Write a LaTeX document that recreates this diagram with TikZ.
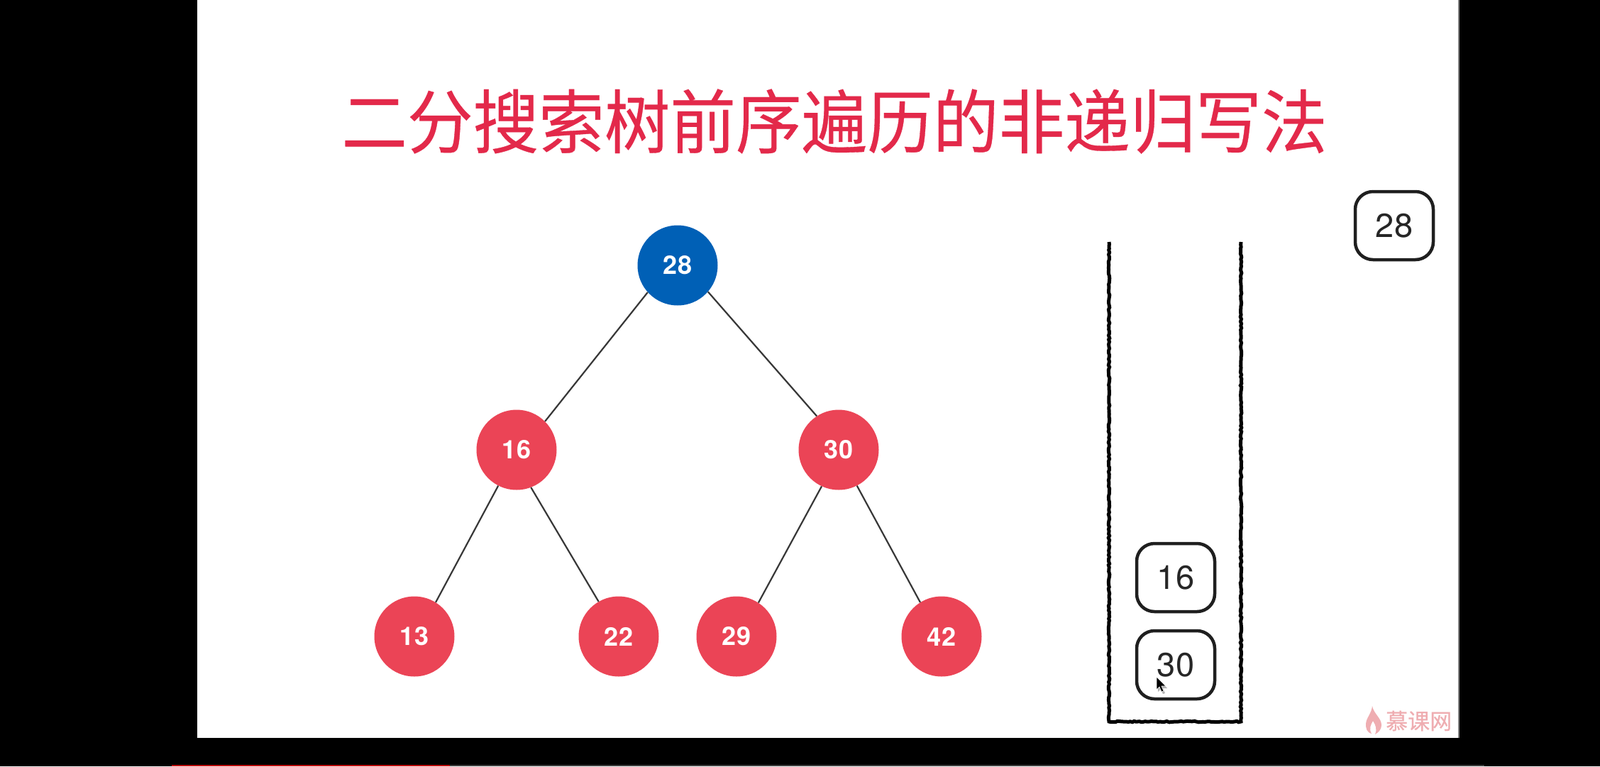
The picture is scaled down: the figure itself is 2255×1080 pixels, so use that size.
\documentclass[tikz,border=0pt]{standalone}
\usepackage{fontspec}
\setmainfont{TeX Gyre Heros}
\newfontfamily\cjk{Noto Sans CJK SC}
\newfontfamily\cjktitle[FakeStretch=0.945,FakeBold=0.35]{Noto Sans CJK SC}
\newfontfamily\cjkmark[FakeBold=0.4]{Noto Sans CJK SC}
\usetikzlibrary{decorations.pathmorphing}
\definecolor{treered}{HTML}{EB4456}
\definecolor{treeblue}{HTML}{0060B6}
\definecolor{titlered}{HTML}{E3294A}
\definecolor{markpink}{HTML}{EFADB1}
\tikzset{
  x=1pt,y=-1pt,
  treenode/.style={circle,minimum size=113pt,inner sep=0pt,text=white,font=\fontsize{36}{36}\selectfont\bfseries},
  rednode/.style={treenode,fill=treered},
  bluenode/.style={treenode,fill=treeblue},
  edge/.style={draw=black!78,line width=2.2pt},
  stackbox/.style={draw=black!88,line width=4.5pt,rounded corners=25pt,minimum width=110pt,minimum height=96pt,inner sep=0pt,font=\fontsize{47}{47}\selectfont,text=black!85},
  stackwall/.style={draw=black,line width=5pt,decorate,decoration={random steps,segment length=3pt,amplitude=.8pt}},
}
\begin{document}
\begin{tikzpicture}
\useasboundingbox (0,0) rectangle (2255,1080);
\fill[black] (0,0) rectangle (2255,1080);
\fill[white] (278,0) rectangle (2056,1040);
\draw[black!50,line width=1.5pt] (2056,0) -- (2056,1040);
\fill[black!75] (634,1078) rectangle (2092,1080);
\fill[red!75!black] (242,1078) rectangle (634,1080);

\node[anchor=center,text=titlered,font=\fontsize{98}{98}\cjktitle] (title) at (1176,171) {二分搜索树前序遍历的非递归写法};

\node[bluenode] (n28) at (955,374) {28};
\node[rednode] (n16) at (728,634) {16};
\node[rednode] (n30) at (1182,634) {30};
\node[rednode] (n13) at (584,897) {13};
\node[rednode] (n22) at (872,897) {22};
\node[rednode] (n29) at (1038,897) {29};
\node[rednode] (n42) at (1327,897) {42};
\draw[edge] (n28.222) -- (n16.45);
\draw[edge] (n28.-41) -- (n30.123);
\draw[edge] (n16.243) -- (n13.58);
\draw[edge] (n16.-69) -- (n22.120);
\draw[edge] (n30.245) -- (n29.57);
\draw[edge] (n30.-63) -- (n42.122);

\draw[stackwall] (1563,341) -- (1563,1017) -- (1749,1017) -- (1749,341);

\node[stackbox] (b28) at (1965,318) {28};
\node[stackbox] (b16) at (1657,814) {16};
\node[stackbox] (b30) at (1657,937) {30};

\fill[black!30] (1632,957) -- (1632,975) -- (1636,971) -- (1639,978) -- (1642,977) -- (1639,970) -- (1645,970) -- cycle;
\fill[black,draw=white,line width=.6pt] (1630,954) -- (1630,972) -- (1634,968) -- (1637,975) -- (1640,974) -- (1637,967) -- (1643,967) -- cycle;

\fill[markpink] (1934,995) .. controls (1936,1006) and (1947,1012) .. (1947,1022) .. controls (1947,1028) and (1943,1032) .. (1938,1035) .. controls (1941,1028) and (1939,1022) .. (1935,1016) .. controls (1932,1021) and (1929,1027) .. (1933,1034) .. controls (1926,1032) and (1925,1026) .. (1925,1021) .. controls (1925,1012) and (1933,1006) .. (1934,995) -- cycle;
\node[text=markpink,font=\fontsize{31}{31}\cjkmark,anchor=west,inner sep=0pt] (wm) at (1953,1016) {慕课网};
\end{tikzpicture}
\end{document}
